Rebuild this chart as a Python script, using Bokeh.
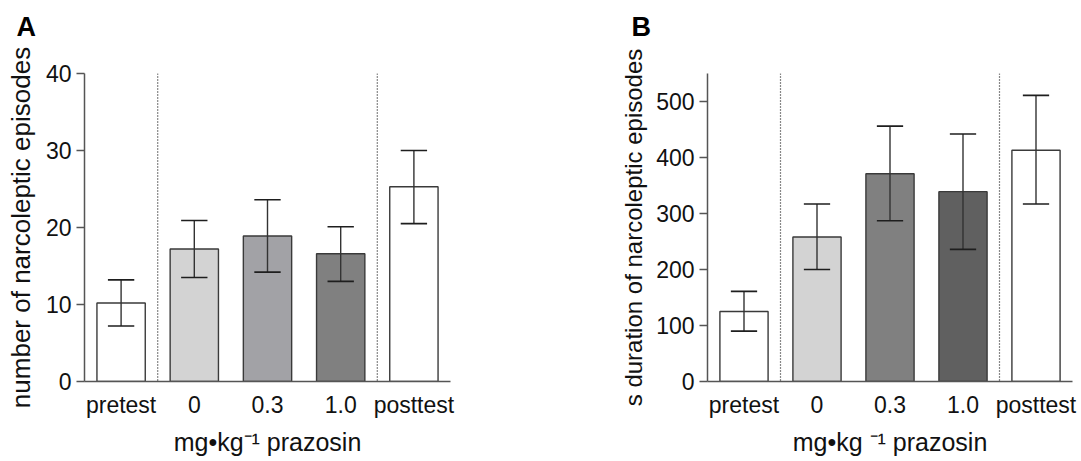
from bokeh.plotting import figure
from bokeh.layouts import row
from bokeh.models import FixedTicker, Span, Range1d, Title
from bokeh.embed import file_html
from bokeh.resources import INLINE

# ---------------- data ----------------
groups = ["pretest", "0", "0.3", "1.0", "posttest"]

a_mean = [10.2, 17.2, 18.9, 16.6, 25.3]
a_upper = [13.2, 20.9, 23.6, 20.1, 30.0]
a_lower = [7.2, 13.5, 14.2, 13.0, 20.5]
a_colors = ["#ffffff", "#d3d3d3", "#a2a2a6", "#808080", "#ffffff"]
a_yticks = [0, 10, 20, 30, 40]

b_mean = [125, 258, 371, 339, 413]
b_upper = [161, 317, 456, 442, 511]
b_lower = [90, 200, 287, 236, 317]
b_colors = ["#ffffff", "#d3d3d3", "#808080", "#606060", "#ffffff"]
b_yticks = [0, 100, 200, 300, 400, 500]

FONT = "Liberation Sans"
H = 461


def make_panel(means, upper, lower, colors, ymax, yticks, ylabel, ylabel_size,
               ylabel_standoff, xlabel, width, bl, br, bt, bb,
               letter, letter_offset):
    n = len(groups)
    xs = list(range(n))
    p = figure(width=width, height=H, output_backend="svg", toolbar_location=None,
               x_range=Range1d(-0.5, n - 0.5), y_range=Range1d(0, ymax),
               min_border_left=bl, min_border_right=br,
               min_border_top=bt, min_border_bottom=bb)
    p.outline_line_color = None
    p.xgrid.grid_line_color = None
    p.ygrid.grid_line_color = None

    # panel letter (outermost title), lifted by a blank spacer title nearer the frame
    p.title.text = letter
    p.title.align = "left"
    p.title.offset = letter_offset
    p.title.standoff = 0
    p.title.text_font = FONT
    p.title.text_font_size = "27px"
    p.title.text_font_style = "bold"
    p.title.text_color = "#000000"
    p.add_layout(Title(text=" ", text_font=FONT, text_font_size="27px", standoff=0),
                 "above")

    p.vbar(x=xs, top=means, bottom=0, width=0.66, fill_color=colors,
           line_color="#3a3a3a", line_width=1.4)

    cap = 0.18
    p.segment(x0=xs, y0=lower, x1=xs, y1=upper, line_color="#333333", line_width=1.4)
    p.segment(x0=[x - cap for x in xs], y0=upper, x1=[x + cap for x in xs], y1=upper,
              line_color="#1e1e1e", line_width=1.6)
    p.segment(x0=[x - cap for x in xs], y0=lower, x1=[x + cap for x in xs], y1=lower,
              line_color="#1e1e1e", line_width=1.6)

    for loc in (0.5, n - 1.5):
        p.add_layout(Span(location=loc, dimension="height", line_color="#111111",
                          line_width=1.2, line_dash="1 2"))

    # axes
    p.xaxis.ticker = FixedTicker(ticks=xs)
    p.xaxis.major_label_overrides = {i: g for i, g in enumerate(groups)}
    p.xaxis.major_tick_line_color = None
    p.xaxis.minor_tick_line_color = None
    p.xaxis.major_tick_out = 0
    p.xaxis.major_tick_in = 0
    p.xaxis.major_label_standoff = 10
    p.yaxis.ticker = FixedTicker(ticks=yticks)
    p.yaxis.minor_tick_line_color = None
    p.yaxis.major_tick_in = 0
    p.yaxis.major_tick_out = 8
    p.yaxis.major_label_standoff = 5
    p.yaxis.major_tick_line_color = "#555555"
    p.yaxis.major_tick_line_width = 1.3
    for ax in (p.xaxis[0], p.yaxis[0]):
        ax.axis_line_color = "#555555"
        ax.axis_line_width = 1.5
        ax.major_label_text_font = FONT
        ax.major_label_text_font_size = "23px"
        ax.major_label_text_color = "#111111"
        ax.axis_label_text_font = FONT
        ax.axis_label_text_font_style = "normal"
        ax.axis_label_text_color = "#111111"
    p.yaxis.axis_label = ylabel
    p.yaxis.axis_label_text_font_size = ylabel_size
    p.yaxis.axis_label_standoff = ylabel_standoff
    p.xaxis.axis_label = xlabel
    p.xaxis.axis_label_text_font_size = "25px"
    p.xaxis.axis_label_standoff = 7
    return p


pA = make_panel(a_mean, a_upper, a_lower, a_colors, 40, a_yticks,
                "number of narcoleptic episodes", "26px", 7,
                "mg\u2022kg\u207b\u00b9 prazosin",
                width=540, bl=84, br=90, bt=73, bb=79,
                letter="A", letter_offset=-68)

pB = make_panel(b_mean, b_upper, b_lower, b_colors, 550, b_yticks,
                "s duration of narcoleptic episodes", "24px", 6,
                "mg\u2022kg \u207b\u00b9 prazosin",
                width=538, bl=167, br=6, bt=72, bb=80,
                letter="B", letter_offset=-76)

layout = row(pA, pB)
open("out.html", "w").write(file_html(layout, INLINE))
